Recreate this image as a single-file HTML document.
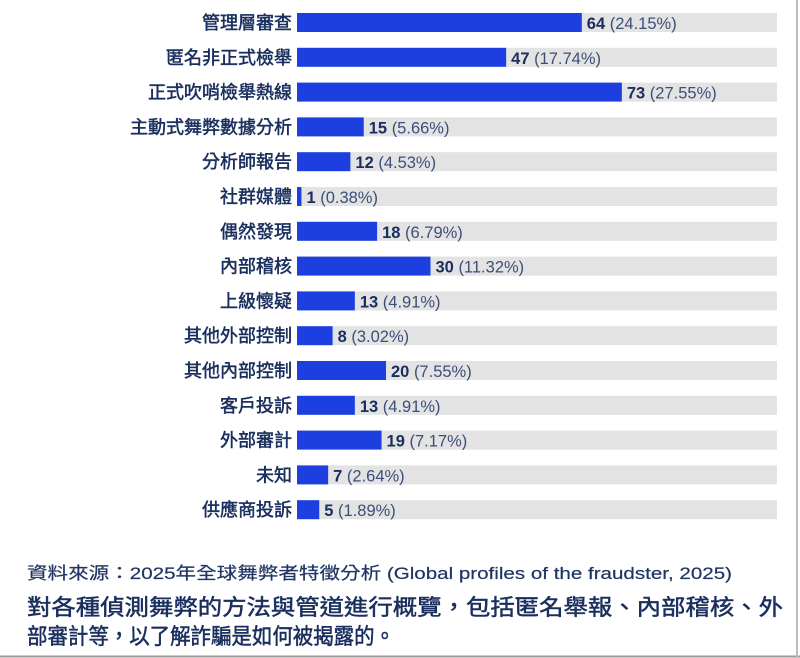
<!DOCTYPE html>
<html><head><meta charset="utf-8"><style>
html,body{margin:0;padding:0;background:#fff;}
svg{display:block;font-family:"Liberation Sans","Noto Sans CJK TC",sans-serif;}
</style></head><body>
<svg id="chart" width="800" height="658" viewBox="0 0 800 658">
<line x1="0" y1="656.5" x2="800" y2="656.5" stroke="#9a9a9a" stroke-width="2"/>
<line x1="797" y1="0" x2="797" y2="658" stroke="#bdbdbd" stroke-width="2"/>
<g id="rows"></g>
<text x="27" y="579" font-size="17" fill="#1f3564" stroke="#1f3564" stroke-width="0.2" textLength="705" lengthAdjust="spacingAndGlyphs">資料來源：2025年全球舞弊者特徵分析 (Global profiles of the fraudster, 2025)</text>
<text x="27" y="615" font-size="22" fill="#1a2f5e" stroke="#1a2f5e" stroke-width="0.5" textLength="756" lengthAdjust="spacingAndGlyphs">對各種偵測舞弊的方法與管道進行概覽，包括匿名舉報、內部稽核、外</text>
<text x="27" y="644" font-size="22" fill="#1a2f5e" stroke="#1a2f5e" stroke-width="0.5" textLength="368" lengthAdjust="spacingAndGlyphs">部審計等，以了解詐騙是如何被揭露的。</text>
</svg>
<script>
const categories = ["管理層審查","匿名非正式檢舉","正式吹哨檢舉熱線","主動式舞弊數據分析","分析師報告","社群媒體","偶然發現","內部稽核","上級懷疑","其他外部控制","其他內部控制","客戶投訴","外部審計","未知","供應商投訴"];
const counts = [64,47,73,15,12,1,18,30,13,8,20,13,19,7,5];
const percents = ["24.15%","17.74%","27.55%","5.66%","4.53%","0.38%","6.79%","11.32%","4.91%","3.02%","7.55%","4.91%","7.17%","2.64%","1.89%"];
const NS="http://www.w3.org/2000/svg";
const x0=297, trackW=480, pxPer=4.45, top0=13, step=34.8, bh=19;
const xScale=v=>v*pxPer;
const yScale=i=>top0+i*step;
const g=document.getElementById('rows');
function mk(t,a){const e=document.createElementNS(NS,t);for(const k in a)e.setAttribute(k,a[k]);return e;}
categories.forEach((c,i)=>{
  const y=yScale(i);
  const tr=mk('rect',{x:x0,y:y,width:trackW,height:bh,fill:'#e3e3e3'});
  
  
  g.appendChild(tr);
  const w=xScale(counts[i]);
  const b=mk('rect',{x:x0,y:y,width:w,height:bh,fill:'#1d3fe0'});
  
  
  g.appendChild(b);
  const l=mk('text',{x:292,y:y+16,'font-size':18,'text-anchor':'end',fill:'#1a2f5e',stroke:'#1a2f5e','stroke-width':0.5});
  l.textContent=c;
  
  
  g.appendChild(l);
  const v=mk('text',{x:x0+w+5,y:y+16,'font-size':16.5,fill:'#1a2f5e'});
  const t1=mk('tspan',{'font-weight':'bold'});t1.textContent=counts[i]+' ';
  const t2=mk('tspan',{fill:'#3c4f78'});t2.textContent='('+percents[i]+')';
  v.appendChild(t1);v.appendChild(t2);
  
  
  g.appendChild(v);
});
</script>
</body></html>
